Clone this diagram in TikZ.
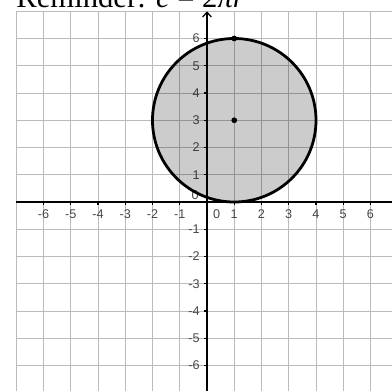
\documentclass[tikz,border=0pt]{standalone}
\usepackage{fontspec}
\setmainfont{Liberation Serif}
\newfontfamily\labfont{Liberation Sans}
\usetikzlibrary{arrows.meta}
\tikzset{
  gridline/.style={draw=black!27, line width=0.9pt},
  axisline/.style={draw=black, line width=1.4pt},
  tickline/.style={draw=black, line width=1.3pt},
  ticklab/.style={inner sep=0pt, text=black!72, font=\labfont\fontsize{13.2}{15}\selectfont},
  circ/.style={draw=black, line width=2.9pt, fill=black, fill opacity=0.2, draw opacity=1},
  dot/.style={circle, fill=black, inner sep=0pt, minimum size=6pt},
  titletext/.style={inner sep=0pt, anchor=base west, font=\fontsize{32}{36}\selectfont}
}
\begin{document}
\begin{tikzpicture}[x=1cm,y=1cm]
\useasboundingbox (-7.596,-6.936) rectangle (6.789,7.413);
% title (clipped by page top, as in the reference)
\node[titletext] (title) at (-7.0,7.12) {Reminder: \textit{c} = 2\textit{πr}};
% grid
\draw[gridline] (-7,-6.936) grid (6.789,7);
% axes
\coordinate (xl) at (-7,0);
\coordinate (xr) at (6.789,0);
\coordinate (yb) at (0,-6.936);
\coordinate (yt) at (0,7.0);
\draw[axisline] (xl) -- (xr);
\draw[axisline, -{Straight Barb[length=5pt,width=9pt,line width=1.3pt]}] (yb) -- (yt);
% ticks and labels
\foreach \i in {-6,...,-1,1,2,...,6}{
  \draw[tickline] (\i,0) -- (\i,-0.12);
  \draw[tickline] (0,\i) -- (-0.12,\i);
  \node[ticklab, anchor=north] (xlab\i) at (\i,-0.29) {\i};
  \node[ticklab, anchor=east] (ylab\i) at (-0.26,\i) {\i};
}
\node[ticklab, anchor=north] (xlab0) at (0.35,-0.29) {0};
\node[ticklab, anchor=east] (ylab0) at (-0.3,0.25) {0};
% circle
\coordinate (ctr) at (1,3);
\path[circ] (ctr) circle[radius=3];
\node[dot] (center) at (1,3) {};
\node[dot] (top) at (1,6) {};
\end{tikzpicture}
\end{document}
